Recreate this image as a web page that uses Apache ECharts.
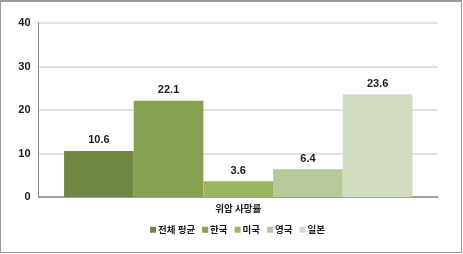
<!DOCTYPE html>
<html>
<head>
<meta charset="utf-8">
<script src="https://cdn.jsdelivr.net/npm/echarts@6/dist/echarts.min.js"></script>
<style>
html,body{margin:0;padding:0;background:#fff;}
#wrap{position:absolute;left:0;top:0;width:462px;height:253px;box-sizing:border-box;border:1px solid #9a9a9a;border-top-width:2px;}
#chart{position:absolute;left:0;top:0;width:463px;height:254px;}
</style>
</head>
<body>
<div id="chart"></div>
<div id="wrap"></div>
<script>
var categories = ['위암 사망률'];
var seriesNames = ['전체 평균', '한국', '미국', '영국', '일본'];
var values = [10.6, 22.1, 3.6, 6.4, 23.6];
var yTicks = [0, 10, 20, 30, 40];
var colors = ['#718843', '#87a04f', '#9bb65e', '#b7c998', '#d0dcbd'];

var numFont = '"Liberation Sans", Arial, "Noto Sans CJK KR", sans-serif';
var krFont = '"Noto Sans CJK KR", "Liberation Sans", sans-serif';

var chart = echarts.init(document.getElementById('chart'), null, {renderer: 'canvas'});
var series = seriesNames.map(function (name, i) {
  return {
    name: name,
    type: 'bar',
    data: [values[i]],
    barGap: '0%',
    barCategoryGap: '12.8%',
    itemStyle: {color: colors[i]},
    label: {
      show: true,
      position: 'top',
      distance: 5,
      fontFamily: numFont,
      fontWeight: 'bold',
      fontSize: 11,
      color: '#1a1a1a',
      formatter: function (p) { return p.value.toFixed(1); }
    }
  };
});

chart.setOption({
  animation: false,
  color: colors,
  grid: {left: 38.5, right: 25, top: 23, bottom: 57, containLabel: false},
  legend: {
    data: seriesNames,
    left: 145,
    top: 220,
    icon: 'rect',
    itemWidth: 6,
    itemHeight: 6,
    itemGap: 7,
    textStyle: {fontFamily: krFont, fontWeight: 'bold', fontSize: 9.5, color: '#1a1a1a', padding: [0, 0, 0, -3]}
  },
  xAxis: {
    type: 'category',
    data: categories,
    axisLine: {lineStyle: {color: '#8a8a8a', width: 1.5}},
    axisTick: {show: false},
    axisLabel: {fontFamily: krFont, fontWeight: 'bold', fontSize: 9.5, color: '#1a1a1a', margin: 7}
  },
  yAxis: {
    type: 'value',
    min: yTicks[0],
    max: yTicks[yTicks.length - 1],
    interval: 10,
    axisLine: {show: true, lineStyle: {color: '#8a8a8a', width: 1}},
    axisTick: {show: false},
    splitLine: {lineStyle: {color: '#e0e0e0', width: 2}},
    axisLabel: {fontFamily: numFont, fontWeight: 'bold', fontSize: 11, color: '#1a1a1a', margin: 8}
  },
  series: series
});
</script>
</body>
</html>
